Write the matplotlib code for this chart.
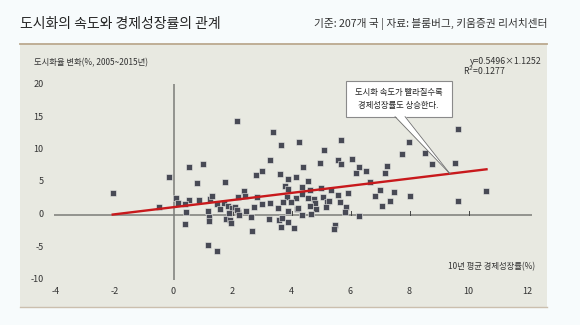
import matplotlib
matplotlib.use("Agg")
import matplotlib.pyplot as plt
from matplotlib.patches import Rectangle, Polygon
import numpy as np

plt.rcParams['font.family'] = ['Noto Sans CJK KR', 'DejaVu Sans']

# --- data -------------------------------------------------------------
gdp_growth = [
    -2.04, -0.15, -0.48, 0.08, 0.14, 2.14, 0.53, 1.0, 0.81, 1.75,
    0.53, 0.39, 0.42, 0.86, 1.25, 1.31, 1.18, 1.21, 1.22, 0.39,
    1.18, 1.46, 1.72, 1.86, 1.99, 1.46, 1.58, 1.88, 1.78, 1.92,
    1.94, 2.2, 2.08, 2.2, 3.36, 3.63, 4.26, 3.27, 2.8, 2.99,
    3.61, 3.87, 4.15, 3.78, 3.89, 2.38, 2.44, 2.82, 3.84, 4.15,
    3.72, 3.97, 3.27, 3.01, 2.74, 3.55, 3.87, 4.18, 2.16, 2.23,
    2.47, 2.64, 3.25, 3.59, 3.89, 3.64, 4.08, 2.67, 5.68, 5.11,
    4.96, 5.57, 5.68, 6.04, 6.19, 6.3, 4.39, 4.55, 4.35, 4.37,
    4.63, 5.0, 5.33, 5.57, 5.93, 4.55, 4.77, 4.81, 5.06, 5.19,
    5.28, 5.17, 5.64, 4.63, 4.82, 4.23, 5.85, 5.81, 4.66, 4.35,
    6.29, 5.47, 5.43, 9.63, 7.99, 7.76, 8.52, 8.76, 9.53, 6.54,
    7.24, 7.18, 6.66, 7.0, 7.46, 6.83, 8.02, 7.33, 7.06, 9.66,
    10.58, 3.67,
]
urban_change = [
    3.3, 5.7, 1.08, 2.55, 1.8, 14.4, 7.3, 7.7, 4.8, 5.0,
    2.25, 1.54, 0.4, 2.25, 2.46, 2.86, 0.55, -0.37, -0.98, -1.4,
    -4.7, -5.6, 1.7, 1.38, 1.0, 1.54, 0.92, 0.25, -0.72, -0.77,
    -1.38, 2.7, 1.08, 0.4, 12.7, 10.7, 11.1, 8.4, 6.1, 6.7,
    6.25, 5.5, 5.8, 4.35, 3.9, 3.6, 2.86, 2.66, 2.7, 2.5,
    1.95, 1.95, 1.7, 1.54, 1.17, 1.0, 0.5, 0.92, 0.66, -0.1,
    0.55, -0.46, -0.62, -0.77, -1.14, -1.95, -2.15, -2.5, 11.4, 9.9,
    7.9, 8.45, 7.7, 8.55, 6.4, 7.3, 7.3, 5.1, 4.3, 3.2,
    3.74, 4.15, 3.74, 2.97, 3.3, 2.55, 2.35, 1.7, 2.7, 1.95,
    2.1, 1.17, 1.95, 1.28, 0.86, 1.0, 1.17, 0.4, 0.15, 0.0,
    -0.2, -1.54, -2.3, 13.1, 11.1, 9.3, 9.5, 7.8, 7.85, 6.7,
    7.5, 6.45, 4.95, 3.78, 3.48, 2.86, 2.86, 2.1, 1.32, 2.15,
    3.69, -0.52,
]

slope, intercept = 0.5496, 1.1252
r_squared = 0.1277
fit_range = [-2.1, 10.65]

x_ticks = [-4, -2, 0, 2, 4, 6, 8, 10, 12]
y_ticks = [-10, -5, 0, 5, 10, 15, 20]

title = "도시화의 속도와 경제성장률의 관계"
source = "기준: 207개 국 | 자료: 블룸버그, 키움증권 리서치센터"
y_label = "도시화율 변화(%, 2005~2015년)"
x_label = "10년 평균 경제성장률(%)"
callout = "도시화 속도가 빨라질수록\n경제성장률도 상승한다."

# --- figure -----------------------------------------------------------
W, H = 580, 325
fig = plt.figure(figsize=(W / 100, H / 100), dpi=100, facecolor="#f7fbfc")

def fx(px):
    return px / W

def fy(py):
    return 1 - py / H

panel_l, panel_r, panel_t, panel_b = 20, 547, 43.5, 307
ax = fig.add_axes([fx(panel_l), fy(panel_b), (panel_r - panel_l) / W,
                   (panel_b - panel_t) / H])
ax.set_facecolor("#e8e9e1")
for s in ax.spines.values():
    s.set_visible(False)
ax.set_xticks([])
ax.set_yticks([])

# data-space mapping of the panel
x0, sx = 173.5, 29.5
y0, sy = 214.5, 6.5
ax.set_xlim((panel_l - x0) / sx, (panel_r - x0) / sx)
ax.set_ylim((y0 - panel_b) / sy, (y0 - panel_t) / sy)

# header rule and bottom rule
fig.add_artist(plt.Line2D([fx(panel_l), fx(panel_r)], [fy(43.5), fy(43.5)],
                          color="#bba98f", lw=1.3))
fig.add_artist(plt.Line2D([fx(panel_l), fx(panel_r)], [fy(307), fy(307)],
                          color="#cbbfae", lw=1.0))

fig.text(fx(20), fy(24), title, fontsize=10, color="#222222",
         ha="left", va="center")
fig.text(fx(547), fy(24), source, fontsize=7.7, color="#333333",
         ha="right", va="center")

# axes cross lines
axis_col = "#7b7c78"
ax.plot([0, 0], [y_ticks[0] - 0.1, y_ticks[-1]], color=axis_col, lw=1.1,
        zorder=2, solid_capstyle="butt")
ax.plot([x_ticks[0] - 0.05, 12.15], [0, 0], color=axis_col, lw=1.1,
        zorder=2, solid_capstyle="butt")
for t in x_ticks[2:-1]:
    if t != 0:
        ax.plot([t, t], [0, 0.6], color="#444444", lw=0.7, zorder=2)

# tick labels
for t in x_ticks:
    ax.text(t, -11.8, str(t), fontsize=6.5, color="#333333",
            ha="center", va="center")
for t in y_ticks:
    ax.text(-4.41, t, str(t), fontsize=6.5, color="#333333",
            ha="right", va="center")

ax.text(-4.73, 23.35, y_label, fontsize=6, color="#333333",
        ha="left", va="center")
ax.text(12.25, -8.1, x_label, fontsize=6, color="#333333",
        ha="right", va="center")

# scatter
ax.plot(gdp_growth, urban_change, ls="none", marker="s", markersize=4.7,
        markerfacecolor="#484a55", markeredgecolor="#eeeeea",
        markeredgewidth=0.4, zorder=3)

# regression line
fx_line = np.array(fit_range)
ax.plot(fx_line, slope * fx_line + intercept, color="#c8191c", lw=1.7,
        zorder=4, solid_capstyle="butt")

ax.text(12.48, 23.6, "y=0.5496×1.1252", fontsize=6.3, color="#333333",
        ha="right", va="center")
ax.text(9.8, 22.1, f"R$^2$={r_squared:.4f}",
        fontsize=6.3, color="#333333", ha="left", va="center")

# callout box
bx0, bx1 = 5.84, 9.43
by0, by1 = 15.05, 20.54
ax.add_patch(Rectangle((bx0, by0), bx1 - bx0, by1 - by0, facecolor="white",
                       edgecolor="#8a8a8a", lw=0.8, zorder=5, clip_on=False))
tip_x = 9.37
tip_y = slope * tip_x + intercept
base_l, base_r = 7.51, 7.85
ax.add_patch(Polygon([[base_l, by0 + 0.15], [base_r, by0 + 0.15],
                      [tip_x, tip_y]], closed=True, facecolor="white",
                     edgecolor="none", zorder=5))
ax.plot([base_l, tip_x], [by0, tip_y], color="#6e6e6e", lw=0.6, zorder=5)
ax.plot([base_r, tip_x], [by0, tip_y], color="#6e6e6e", lw=0.6, zorder=5)
ax.text((bx0 + bx1) / 2, (by0 + by1) / 2, callout, fontsize=6,
        color="#222222", ha="center", va="center", linespacing=1.6,
        zorder=6)

fig.savefig("out.png", dpi=100, facecolor=fig.get_facecolor())
